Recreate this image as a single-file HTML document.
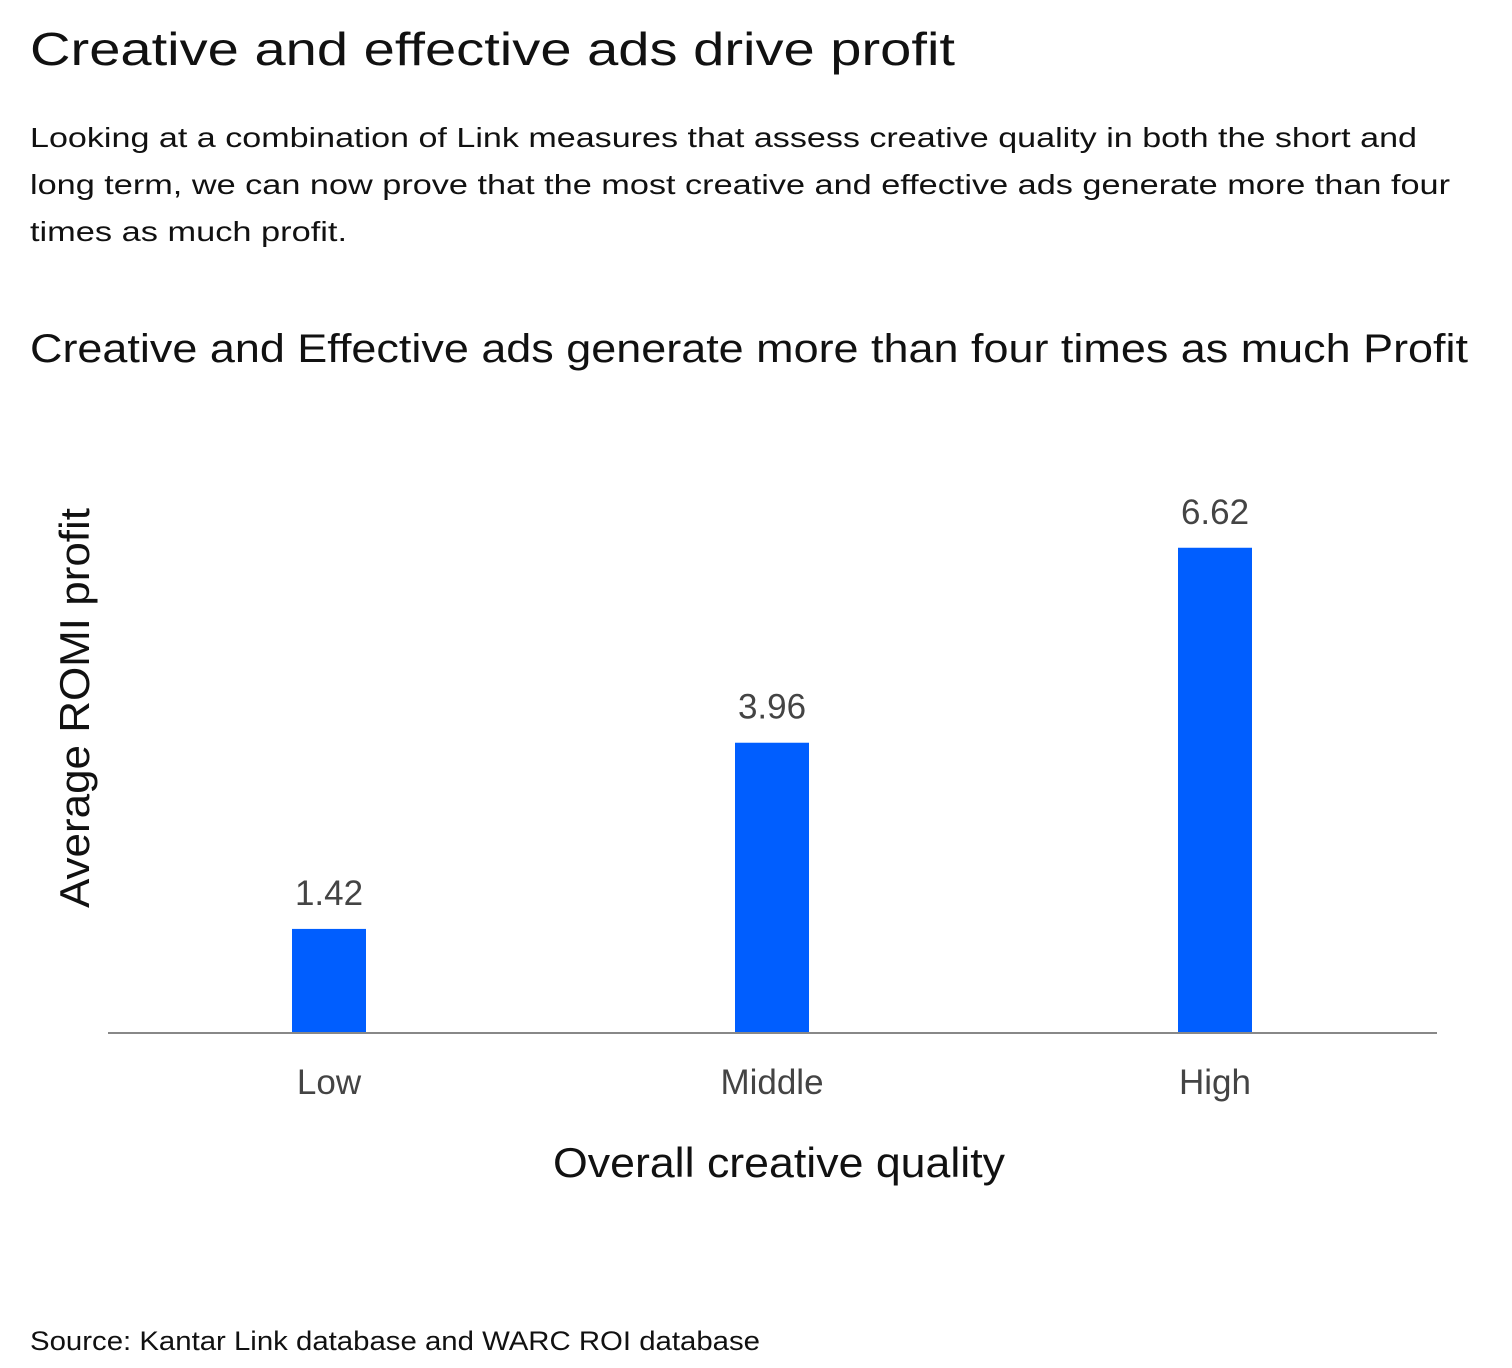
<!DOCTYPE html>
<html><head><meta charset="utf-8"><style>
body{margin:0;background:#fff;font-family:"Liberation Sans",sans-serif;color:#111;}
.wrap{position:relative;width:1512px;height:1368px;overflow:hidden;}
</style></head><body>
<div class="wrap">
<svg width="1512" height="1368" style="position:absolute;left:0;top:0" font-family="Liberation Sans">
<text x="30" y="65" font-size="46" fill="#111" textLength="925" lengthAdjust="spacingAndGlyphs">Creative and effective ads drive profit</text>
<g font-size="28" fill="#111">
<text x="30" y="147" textLength="1387" lengthAdjust="spacingAndGlyphs">Looking at a combination of Link measures that assess creative quality in both the short and</text>
<text x="30" y="194" textLength="1420" lengthAdjust="spacingAndGlyphs">long term, we can now prove that the most creative and effective ads generate more than four</text>
<text x="30" y="241" textLength="317" lengthAdjust="spacingAndGlyphs">times as much profit.</text>
</g>
<text x="30" y="362" font-size="40" fill="#111" textLength="1438" lengthAdjust="spacingAndGlyphs">Creative and Effective ads generate more than four times as much Profit</text>
<g id="bars"></g>
<line x1="108" y1="1033" x2="1437" y2="1033" stroke="#888" stroke-width="2"/>
<text x="553" y="1177" font-size="42" fill="#111" textLength="452" lengthAdjust="spacingAndGlyphs">Overall creative quality</text>
<text transform="translate(89,908) rotate(-90)" font-size="42" fill="#111" textLength="400" lengthAdjust="spacingAndGlyphs">Average ROMI profit</text>
<text x="30" y="1350" font-size="27" fill="#111" textLength="730" lengthAdjust="spacingAndGlyphs">Source: Kantar Link database and WARC ROI database</text>
</svg>
<script>
const categories=["Low","Middle","High"];
const values=[1.42,3.96,6.62];
const labels=["1.42","3.96","6.62"];
const ns="http://www.w3.org/2000/svg";
const g=document.getElementById('bars');
const base=1033,scale=73.3,bw=74;
function xc(i){return 329+i*443;}
function y(v){return base-v*scale;}
values.forEach((v,i)=>{
 const r=document.createElementNS(ns,'rect');
 r.setAttribute('x',xc(i)-bw/2);r.setAttribute('y',y(v));r.setAttribute('width',bw);r.setAttribute('height',base-y(v));r.setAttribute('fill','#005eff');
 
 
 g.appendChild(r);
 const t=document.createElementNS(ns,'text');
 t.setAttribute('x',xc(i));t.setAttribute('y',y(v)-24);t.setAttribute('text-anchor','middle');t.setAttribute('font-size','35');t.setAttribute('fill','#444');
 t.textContent=labels[i];
 
 
 g.appendChild(t);
 const c=document.createElementNS(ns,'text');
 c.setAttribute('x',xc(i));c.setAttribute('y',1094);c.setAttribute('text-anchor','middle');c.setAttribute('font-size','35');c.setAttribute('fill','#444');
 c.textContent=categories[i];
 
 
 g.appendChild(c);
});
</script>
</div>
</body></html>
